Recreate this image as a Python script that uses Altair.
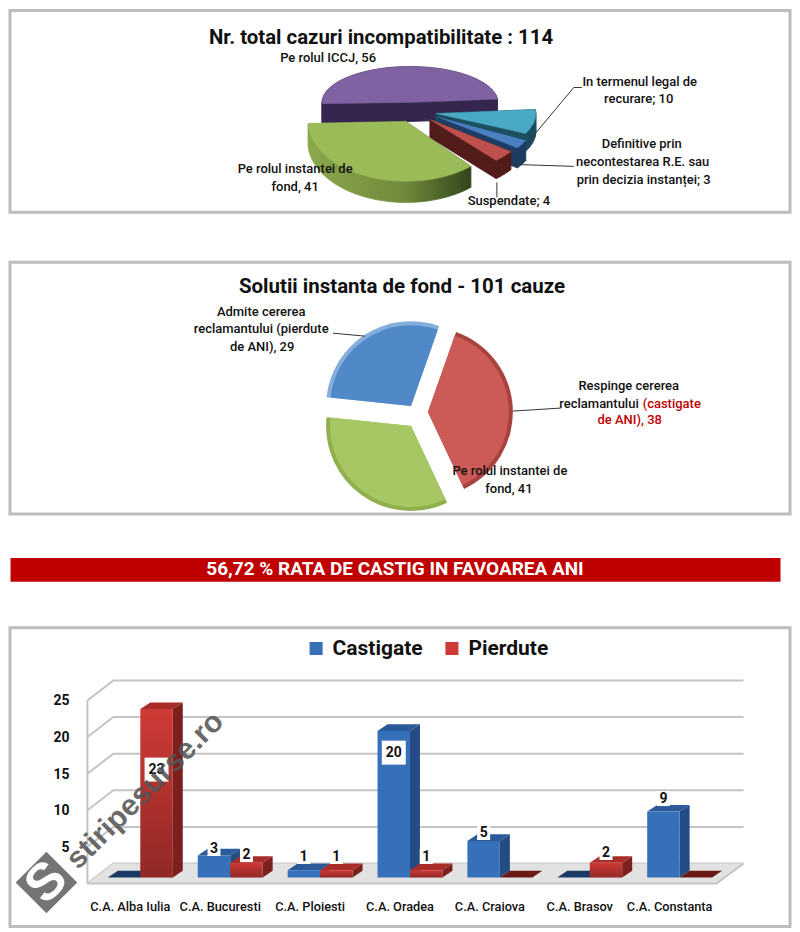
import math
import altair as alt
import pandas as pd

FONT = "Roboto"
TITLE_FONT = "Roboto"
W = 781
X0 = 9.5

# ---------- data ----------
pie1_names = ["Pe rolul ICCJ", "In termenul legal de recurare", "Definitive", "Suspendate", "Pe rolul instantei de fond"]
pie1_values = [56, 10, 3, 4, 41]
pie2_names = ["Admite", "Respinge", "Pe rol"]
pie2_values = [29, 38, 34]
categories = ["C.A. Alba Iulia", "C.A. Bucuresti", "C.A. Ploiesti", "C.A. Oradea", "C.A. Craiova", "C.A. Brasov", "C.A. Constanta"]
castigate = [0, 3, 1, 20, 5, 0, 9]
pierdute = [23, 2, 1, 1, 0, 2, 0]
ticks = [5, 10, 15, 20, 25]

# ---------- styles ----------
P1_TOP = 11
P2_TOP = 263
BANNER_TOP = 558
P3_TOP = 627
P1_H, P2_H, BANNER_H, P3_H = 202, 252, 24, 299
card = alt.ViewBackground(fill="white", stroke="#bcbcbc", strokeWidth=3)
LABEL_SIZE = 13


def text_layer(rows, top, size=LABEL_SIZE, weight=500, color="#111111", align="center", font=FONT):
    df = pd.DataFrame(rows, columns=["t", "x", "y"])
    df["x"] = df["x"] - X0
    df["y"] = df["y"] - top
    return alt.Chart(df).mark_text(
        font=font, fontSize=size, fontWeight=weight,
        color=color, align=align, baseline="middle",
    ).encode(x=alt.X("x:Q", scale=None), y=alt.Y("y:Q", scale=None), text="t:N")


def leader_layer(segments, top):
    df = pd.DataFrame(segments, columns=["x", "y", "x2", "y2"], dtype=float)
    df[["x", "x2"]] -= X0
    df[["y", "y2"]] -= top
    return alt.Chart(df).mark_rule(color="#333333", strokeWidth=1).encode(
        x=alt.X("x:Q", scale=None), x2="x2:Q", y=alt.Y("y:Q", scale=None), y2="y2:Q")


# ---------- panel 1: tilted exploded pie ----------
def sector(cx, cy, rx, ry, a0, a1):
    n = max(4, int(abs(a1 - a0) / 3))
    pts = [(cx, cy)]
    for i in range(n + 1):
        t = math.radians(a0 + (a1 - a0) * i / n)
        pts.append((cx + rx * math.sin(t), cy - ry * math.cos(t)))
    return pts


def oriented(poly):
    area = sum(poly[i][0] * poly[(i + 1) % len(poly)][1] - poly[(i + 1) % len(poly)][0] * poly[i][1]
               for i in range(len(poly)))
    return poly if area >= 0 else list(reversed(poly))


def geo(polys):
    coords = [[[list(p) for p in oriented(poly)] + [list(oriented(poly)[0])]] for poly in polys]
    return alt.Data(values=[{"type": "Feature", "properties": {},
                             "geometry": {"type": "MultiPolygon", "coordinates": coords}}])


identity = dict(type="identity", scale=1, translate=[0, 0])
p1_geom = [  # cx, cy, rx, ry, depth in reference pixels
    (410, 103, 88, 36, 19),
    (436, 114, 100, 45, 18),
    (439, 118, 97, 52, 20),
    (430, 120, 100, 55, 18),
    (406, 122, 98, 60, 21),
]
p1_top_col = ["#7f62a1", "#4aa9c5", "#4a7fc1", "#c0504d", "#9bbb59"]
p1_side_col = ["#35264f", "#1c4f60", "#1f3d63", "#511c1a", None]
green_side = alt.Gradient(gradient="linear", x1=0, x2=1, y1=0, y2=0, stops=[
    alt.GradientStop(color="#8ba84c", offset=0),
    alt.GradientStop(color="#6f8a3a", offset=0.6),
    alt.GradientStop(color="#34451b", offset=1)])

p1_layers = []
angle = -92.0
total1 = sum(pie1_values)
for v, g, top_c, side_c in zip(pie1_values, p1_geom, p1_top_col, p1_side_col):
    a1 = angle + v / total1 * 360
    cx, cy, rx, ry, d = g
    s = [(x - X0, y - P1_TOP) for x, y in sector(cx, cy, rx, ry, angle, a1)]
    shifted = [(x, y + d) for x, y in s]
    quads = [shifted] + [
        [s[i], s[(i + 1) % len(s)], shifted[(i + 1) % len(s)], shifted[i]] for i in range(len(s))
    ]
    fill = side_c if side_c else green_side
    p1_layers.append(alt.Chart(geo(quads)).mark_geoshape(fill=fill, stroke=fill, strokeWidth=0.6).project(**identity))
    p1_layers.append(alt.Chart(geo([s])).mark_geoshape(fill=top_c, stroke=top_c, strokeWidth=0.4).project(**identity))
    angle = a1

p1_layers += [
    leader_layer([(582, 88, 574, 88), (574, 88, 528, 143), (574, 167, 513, 165), (497, 183, 497, 198)], P1_TOP),
    text_layer([("Nr. total cazuri incompatibilitate : 114", 381, 38)], P1_TOP, size=20.4, weight=700, font=TITLE_FONT),
    text_layer([
        ("Pe rolul ICCJ, 56", 328, 58),
        ("In termenul legal de", 640, 83), ("recurare; 10", 639, 100),
        ("Definitive prin", 642, 145), ("necontestarea R.E. sau", 643, 163), ("prin decizia instanței; 3", 644, 181),
        ("Pe rolul instantei de", 295, 170), ("fond, 41", 295, 188),
        ("Suspendate; 4", 509, 202),
    ], P1_TOP),
]
panel1 = alt.layer(*p1_layers).properties(width=W, height=P1_H, view=card)

# ---------- panel 2: exploded pie ----------
p2_center = [(411, 407), (428, 413), (411, 427)]
p2_fill = ["#5088c8", "#cc5a57", "#a6c763"]
p2_rim = ["#86aedd", "#a8423f", "#8fb04c"]
rows, angle = [], -84.0
total2 = sum(pie2_values)
for n, v, c, f, r in zip(pie2_names, pie2_values, p2_center, p2_fill, p2_rim):
    a1 = angle + v / total2 * 360
    rows.append(dict(name=n, x=c[0] - X0, y=c[1] - P2_TOP, a=math.radians(angle), b=math.radians(a1), fill=f, rim=r))
    angle = a1
p2_df = pd.DataFrame(rows)


def arc_layer(radius, colour):
    return alt.Chart(p2_df).mark_arc(radius=radius, radius2=0).encode(
        x=alt.X("x:Q", scale=None), y=alt.Y("y:Q", scale=None),
        theta=alt.Theta("a:Q", scale=None), theta2="b:Q",
        color=alt.Color(f"{colour}:N", scale=None))


panel2 = alt.layer(
    arc_layer(85, "rim"),
    arc_layer(81, "fill"),
    leader_layer([(333, 334, 365, 337), (561, 409, 513, 412)], P2_TOP),
    text_layer([("Solutii instanta de fond - 101 cauze", 402, 288)], P2_TOP, size=20.5, weight=700, font=TITLE_FONT),
    text_layer([
        ("Admite cererea", 261, 313), ("reclamantului (pierdute", 261, 330), ("de ANI), 29", 262, 348),
        ("Respinge cererea", 629, 387),
        ("Pe rolul instantei de", 510, 472), ("fond, 41", 509, 490),
    ], P2_TOP),
    text_layer([("reclamantului", 639, 405)], P2_TOP, align="right"),
    text_layer([("(castigate", 643, 405)], P2_TOP, color="#c00000", align="left"),
    text_layer([("de ANI), 38", 630, 421)], P2_TOP, color="#c00000"),
).properties(width=W, height=P2_H, view=card)

# ---------- banner ----------
banner = alt.layer(
    alt.Chart(pd.DataFrame({"x": [10 - X0], "x2": [781 - X0]})).mark_rect(color="#c00000").encode(
        x=alt.X("x:Q", scale=None), x2="x2:Q"),
    text_layer([("56,72 % RATA DE CASTIG IN FAVOAREA ANI", 395, 569)], BANNER_TOP, size=19, weight=700, color="white", font=TITLE_FONT),
).properties(width=W, height=BANNER_H)

# ---------- panel 3: pseudo-3D clustered bars ----------
PX_PER_CAT = 90.0
PX_PER_UNIT = 7.33
ORIGIN_X = 140.0
BASE_Y = 877.0
xs = alt.Scale(domain=[(X0 - ORIGIN_X) / PX_PER_CAT, (X0 + W - ORIGIN_X) / PX_PER_CAT], nice=False, zero=False)
ys = alt.Scale(domain=[(BASE_Y - P3_TOP - P3_H) / PX_PER_UNIT, (BASE_Y - P3_TOP) / PX_PER_UNIT], nice=False, zero=False)
BW = 32.5 / PX_PER_CAT
DX = 10 / PX_PER_CAT
DY = 6.7 / PX_PER_UNIT
BACK_UP = 14 / PX_PER_UNIT
FRONT_DOWN = 6 / PX_PER_UNIT
LEFT_FRONT, LEFT_BACK = (87 - ORIGIN_X) / PX_PER_CAT, (113 - ORIGIN_X) / PX_PER_CAT
RIGHT_FRONT, RIGHT_BACK = (717 - ORIGIN_X) / PX_PER_CAT, (744 - ORIGIN_X) / PX_PER_CAT

SIDE = {"Castigate": "#234c84", "Pierdute": "#7c201d"}
TOP = {"Castigate": "#2a5a99", "Pierdute": "#a92c29"}
ZERO_TOP = {"Castigate": "#1b3a66", "Pierdute": "#6a1a18"}


def X():
    return alt.X("x:Q", scale=xs, axis=None)


def Y():
    return alt.Y("y:Q", scale=ys, axis=None)


bars, sides, tops = [], [], []
for i in range(len(categories)):
    for sname, vals, left in (("Castigate", castigate, i - BW), ("Pierdute", pierdute, i)):
        v = vals[i]
        right = left + BW
        bid = f"{sname}{i}"
        if v > 0:
            bars.append(dict(series=sname, x=left, x2=right, y=0, y2=v))
            sides += [dict(id=bid, c=SIDE[sname], x=right, y=0, y2=v),
                      dict(id=bid, c=SIDE[sname], x=right + DX, y=DY, y2=v + DY)]
        c = TOP[sname] if v > 0 else ZERO_TOP[sname]
        tops += [dict(id=bid, c=c, x=left, y=v, y2=v),
                 dict(id=bid, c=c, x=left + DX, y=v, y2=v + DY),
                 dict(id=bid, c=c, x=right, y=v, y2=v + DY),
                 dict(id=bid, c=c, x=right + DX, y=v + DY, y2=v + DY)]
bars_df = pd.DataFrame(bars)
sides_df = pd.DataFrame(sides)
tops_df = pd.DataFrame(tops)

grid_rows = []
for v in [0] + ticks:
    grid_rows += [dict(g=v, x=LEFT_FRONT, y=v - FRONT_DOWN), dict(g=v, x=LEFT_BACK, y=v + BACK_UP),
                  dict(g=v, x=RIGHT_BACK, y=v + BACK_UP)]
grid_df = pd.DataFrame(grid_rows)
grid_layer = alt.Chart(grid_df).mark_line(color="#c4c4c4", strokeWidth=2).encode(
    x=X(), y=Y(), detail="g:N", order="x:Q")
tick_df = pd.DataFrame({"x": [(69 - ORIGIN_X) / PX_PER_CAT] * len(ticks), "y": ticks, "t": [str(t) for t in ticks]})
tick_text = alt.Chart(tick_df).mark_text(font=FONT, fontSize=14, fontWeight=700, color="#111111", align="right", dy=7).encode(
    x=X(), y=Y(), text="t:N")

wall = alt.Chart(pd.DataFrame({"x": [LEFT_FRONT, LEFT_FRONT], "y": [-FRONT_DOWN, 25 - FRONT_DOWN]})).mark_line(
    color="#c4c4c4", strokeWidth=2).encode(x=X(), y=Y())
floor = alt.Chart(pd.DataFrame({
    "x": [LEFT_FRONT, LEFT_BACK, RIGHT_FRONT, RIGHT_BACK],
    "y": [-FRONT_DOWN, -FRONT_DOWN, -FRONT_DOWN, BACK_UP],
    "y2": [-FRONT_DOWN, BACK_UP, BACK_UP, BACK_UP],
})).mark_area(color="#e2e2e2").encode(x=X(), y=Y(), y2="y2:Q")
floor_edge = alt.Chart(pd.DataFrame({
    "x": [LEFT_FRONT, RIGHT_FRONT, RIGHT_BACK], "y": [-FRONT_DOWN, -FRONT_DOWN, BACK_UP],
})).mark_line(color="#c4c4c4", strokeWidth=2).encode(x=X(), y=Y())

sides_layer = alt.Chart(sides_df).mark_area().encode(
    x=X(), y=Y(), y2="y2:Q", detail="id:N", fill=alt.Fill("c:N", scale=None))
tops_layer = alt.Chart(tops_df).mark_area().encode(
    x=X(), y=Y(), y2="y2:Q", detail="id:N", fill=alt.Fill("c:N", scale=None))

front = alt.Chart(bars_df).mark_rect().encode(
    x=X(), x2="x2:Q", y=Y(), y2="y2:Q",
    color=alt.Color("series:N", scale=alt.Scale(domain=["Castigate", "Pierdute"], range=["#3670b8", "#cf3a36"]),
                    legend=alt.Legend(orient="none", legendX=296, legendY=628, direction="horizontal", title=None,
                                      labelFont=FONT, labelFontSize=21, labelFontWeight=700, labelColor="#111111",
                                      symbolType="square", symbolSize=170, symbolStrokeWidth=0, columnPadding=18,
                                      labelOffset=6)))
shade = alt.Chart(bars_df[bars_df.series == "Pierdute"]).mark_rect(
    fill=alt.Gradient(gradient="linear", x1=0, x2=0, y1=0, y2=1, stops=[
        alt.GradientStop(color="rgba(0,0,0,0)", offset=0),
        alt.GradientStop(color="rgba(0,0,0,0.3)", offset=1)])
).encode(x=X(), x2="x2:Q", y=Y(), y2="y2:Q")

# value labels: reference vertical spot of each number, per series and category
label_px = {"Castigate": {1: 848, 2: 856, 3: 752, 4: 832, 6: 798}, "Pierdute": {0: 769, 1: 854, 2: 856, 3: 856, 5: 852}}
labels = []
for sname, vals, off in (("Castigate", castigate, -BW / 2), ("Pierdute", pierdute, BW / 2)):
    for i, px in label_px[sname].items():
        labels.append(dict(x=i + off, y=(BASE_Y - px) / PX_PER_UNIT, t=str(vals[i]), big=vals[i] >= 10))
labels_df = pd.DataFrame(labels)
box_small = alt.Chart(labels_df[~labels_df.big]).mark_rect(color="white", width=13, height=15).encode(x=X(), y=Y())
box_big = alt.Chart(labels_df[labels_df.big]).mark_rect(color="white", width=24, height=24).encode(x=X(), y=Y())
label_text = alt.Chart(labels_df).mark_text(font=FONT, fontSize=14, fontWeight=700, color="#111111").encode(
    x=X(), y=Y(), text="t:N")

cat_df = pd.DataFrame({"x": [i - 10 / PX_PER_CAT for i in range(len(categories))],
                       "y": [(BASE_Y - 907) / PX_PER_UNIT] * len(categories), "t": categories})
cat_text = alt.Chart(cat_df).mark_text(font=FONT, fontSize=12.8, fontWeight=500, color="#111111").encode(x=X(), y=Y(), text="t:N")

# watermark
wm_text = alt.Chart(pd.DataFrame({"x": [145 - X0], "y": [790 - P3_TOP], "t": ["stiripesurse.ro"]})).mark_text(
    font="Liberation Sans", fontSize=30, fontWeight="bold", color="#555555", angle=315, opacity=0.88).encode(
    x=alt.X("x:Q", scale=None), y=alt.Y("y:Q", scale=None), text="t:N")
wm_d = alt.Chart(pd.DataFrame({"x": [46 - X0], "y": [882 - P3_TOP]})).mark_point(
    shape="diamond", filled=True, size=3800, color="#666666", opacity=0.9).encode(
    x=alt.X("x:Q", scale=None), y=alt.Y("y:Q", scale=None))
wm_s = alt.Chart(pd.DataFrame({"x": [46 - X0], "y": [882 - P3_TOP], "t": ["S"]})).mark_text(
    font="Liberation Sans", fontSize=52, fontWeight="bold", color="white", angle=315).encode(
    x=alt.X("x:Q", scale=None), y=alt.Y("y:Q", scale=None), text="t:N")

panel3 = alt.layer(
    grid_layer, floor, wall, floor_edge, tick_text,
    sides_layer, tops_layer, front, shade,
    box_small, box_big, label_text, cat_text, wm_text, wm_d, wm_s,
).properties(width=W, height=P3_H, view=card)

chart = alt.vconcat(
    alt.vconcat(panel1, panel2, spacing=46),
    alt.vconcat(banner, panel3, spacing=44),
    spacing=42,
).properties(padding={"left": 0, "top": 0, "right": 0, "bottom": 0}).configure_view(stroke=None)

chart.save("out.html", embed_options={"renderer": "svg", "actions": False})
